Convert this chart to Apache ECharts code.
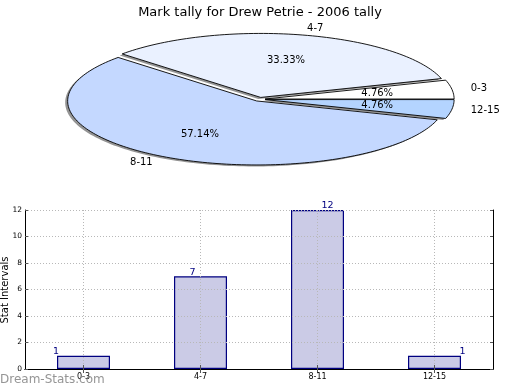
<!DOCTYPE html>
<html><head><meta charset="utf-8">
<script src="https://cdn.jsdelivr.net/npm/echarts@6/dist/echarts.min.js"></script>
<style>html,body{margin:0;padding:0;background:#fff}#c{width:520px;height:390px}</style>
</head><body><div id="c"></div>
<script>
// ---- data ----
const categories = ['0-3', '4-7', '8-11', '12-15'];
const tally = [1, 7, 12, 1];
const yMin = 0, yMax = 12, yInterval = 2;
const titleText = 'Mark tally for Drew Petrie - 2006 tally';
const yName = 'Stat Intervals';

// ---- style ----
const FONT = 'DejaVu Sans';
const pieColors = ['#ffffff', '#eaf1ff', '#c4d8ff', '#b4d4ff'];
const PIE = { cx: 259.5, cy: 99.3, rx: 189, ry: 64, explode: 0.03 };
const valueLabelDx = [-27.5, -8, 10, 28];

const total = tally.reduce((a, b) => a + b, 0);
function wedge(i) {
  let s = 0;
  for (let k = 0; k < i; k++) s += tally[k];
  const a0 = s / total * 2 * Math.PI;
  const a1 = (s + tally[i]) / total * 2 * Math.PI;
  const mid = (a0 + a1) / 2;
  const ox = PIE.cx + PIE.explode * PIE.rx * Math.cos(mid);
  const oy = PIE.cy - PIE.explode * PIE.ry * Math.sin(mid);
  return { a0, a1, mid, ox, oy };
}
function wedgePoints(w, dx, dy) {
  const pts = [[w.ox + dx, w.oy + dy]];
  const n = Math.max(4, Math.ceil((w.a1 - w.a0) / (Math.PI / 120)));
  for (let j = 0; j <= n; j++) {
    const a = w.a0 + (w.a1 - w.a0) * j / n;
    pts.push([w.ox + dx + PIE.rx * Math.cos(a), w.oy + dy - PIE.ry * Math.sin(a)]);
  }
  return pts;
}

const chart = echarts.init(document.getElementById('c'), null, { renderer: 'canvas' });
const option = {
  animation: false,
  backgroundColor: '#fff',
  title: {
    text: titleText, left: 'center', top: 1,
    textStyle: { fontFamily: FONT, fontSize: 13, fontWeight: 'normal', color: '#000' }
  },
  grid: { left: 25, right: 27, top: 210, bottom: 21, show: false, containLabel: false, outerBoundsMode: 'none' },
  xAxis: [{
    type: 'category', data: categories, boundaryGap: true, z: 3,
    axisLine: { show: true, lineStyle: { color: '#000', width: 1 } },
    axisTick: { show: true, inside: true, length: 4, alignWithLabel: true, lineStyle: { color: '#555' } },
    axisLabel: { fontFamily: FONT, fontSize: 8, color: '#000', margin: 4 },
    splitLine: { show: true, alignWithLabel: true, lineStyle: { color: '#b8b8b8', type: [1, 2], width: 1 } }
  }, {
    type: 'category', data: categories, position: 'top', boundaryGap: true, z: 3,
    axisLine: { show: true, lineStyle: { color: '#000', width: 1 } },
    axisTick: { show: true, inside: true, length: 4, alignWithLabel: true, lineStyle: { color: '#555' } },
    axisLabel: { show: false }, splitLine: { show: false }
  }],
  yAxis: [{
    type: 'value', min: yMin, max: yMax, interval: yInterval, z: 3,
    axisLine: { show: true, lineStyle: { color: '#000', width: 1 } },
    axisTick: { show: true, inside: true, length: 3, lineStyle: { color: '#555' } },
    axisLabel: { fontFamily: FONT, fontSize: 7.5, color: '#000', margin: 3 },
    splitLine: { show: true, lineStyle: { color: '#b8b8b8', type: [1, 2], width: 1 } }
  }, {
    type: 'value', min: yMin, max: yMax, interval: yInterval, position: 'right', z: 3,
    axisLine: { show: true, lineStyle: { color: '#000', width: 1 } },
    axisTick: { show: true, inside: true, length: 3, lineStyle: { color: '#555' } },
    axisLabel: { show: false }, splitLine: { show: false }
  }],
  series: [{
    type: 'custom', coordinateSystem: 'none', silent: true, z: 1,
    data: tally.map((v, i) => [i, v]),
    renderItem: function (params) {
      const w = wedge(params.dataIndex);
      return { type: 'polygon', shape: { points: wedgePoints(w, -2.5, 1.5) },
        style: { fill: 'rgba(0,0,0,0.42)', stroke: null } };
    }
  }, {
    type: 'custom', coordinateSystem: 'none', silent: true, z: 2,
    data: tally.map((v, i) => [i, v]),
    renderItem: function (params) {
      const i = params.dataIndex;
      const w = wedge(i);
      const c = Math.cos(w.mid), s = Math.sin(w.mid);
      const pct = (tally[i] / total * 100).toFixed(2) + '%';
      return { type: 'group', children: [
        { type: 'polygon', shape: { points: wedgePoints(w, 0, 0) },
          style: { fill: pieColors[i], stroke: '#000', lineWidth: 0.9 } },
        { type: 'text', z2: 10, style: { text: pct, x: w.ox + 0.6 * PIE.rx * c, y: w.oy - 0.6 * PIE.ry * s,
          align: 'center', verticalAlign: 'middle', fontFamily: FONT, fontSize: 10, fill: '#000' } },
        { type: 'text', z2: 10, style: { text: categories[i], x: w.ox + 1.1 * PIE.rx * c, y: w.oy - 1.1 * PIE.ry * s,
          align: c >= 0 ? 'left' : 'right', verticalAlign: 'middle', fontFamily: FONT, fontSize: 10, fill: '#000' } }
      ] };
    }
  }, {
    type: 'bar', xAxisIndex: 0, yAxisIndex: 0, barWidth: 53, z: 2,
    data: tally.map((v, i) => ({ value: v, label: { offset: [valueLabelDx[i], 1] } })),
    itemStyle: { color: '#cbcbe6', borderColor: '#000080', borderWidth: 1.2 },
    label: { show: true, position: 'top', distance: 0, color: '#000080', fontFamily: FONT, fontSize: 9.5 }
  }],
  graphic: [{
    type: 'text', x: 5, y: 290, rotation: Math.PI / 2, z: 100,
    style: { text: yName, fontFamily: FONT, fontSize: 10, fill: '#000', align: 'center', verticalAlign: 'middle' }
  }, {
    type: 'text', left: 0, top: 374, z: 100,
    style: { text: 'Dream-Stats.com', fontFamily: FONT, fontSize: 12, fill: 'rgba(130,130,130,0.85)' }
  }]
};
chart.setOption(option);
</script></body></html>
